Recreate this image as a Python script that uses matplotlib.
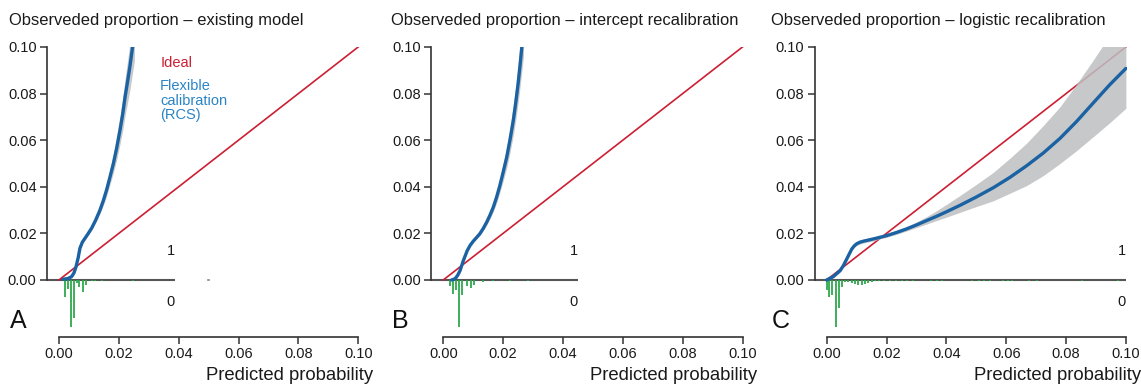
import matplotlib
matplotlib.use("Agg")
import matplotlib.pyplot as plt

plt.rcParams['font.family'] = ['Liberation Sans', 'DejaVu Sans']

# ---- data ----
titles = ["Observeded proportion \u2013 existing model",
          "Observeded proportion \u2013 intercept recalibration",
          "Observeded proportion \u2013 logistic recalibration"]
letters = ["A", "B", "C"]
xticks = [0.00, 0.02, 0.04, 0.06, 0.08, 0.10]
yticks = [0.00, 0.02, 0.04, 0.06, 0.08, 0.10]

# panel A: existing model
a_x = [0.0014, 0.0030, 0.0042, 0.0050, 0.0057, 0.0064, 0.0070, 0.0078, 0.0087, 0.0098,
       0.0109, 0.0123, 0.0137, 0.0148, 0.0159, 0.0170, 0.0182, 0.0193, 0.0204, 0.0213,
       0.0221, 0.0229, 0.0237, 0.0246, 0.0252]
a_y = [0.0003, 0.0006, 0.0014, 0.0030, 0.0057, 0.0095, 0.0136, 0.0162, 0.0179, 0.0200,
       0.0222, 0.0258, 0.0300, 0.0340, 0.0386, 0.0440, 0.0501, 0.0568, 0.0644, 0.0713,
       0.0787, 0.0850, 0.0916, 0.1001, 0.1060]
a_lo = [0.0002, 0.0004, 0.0011, 0.0026, 0.0052, 0.0089, 0.0130, 0.0157, 0.0174, 0.0194,
        0.0214, 0.0248, 0.0285, 0.0320, 0.0360, 0.0408, 0.0461, 0.0518, 0.0584, 0.0643,
        0.0707, 0.0760, 0.0816, 0.0891, 0.0940]
a_hi = [0.0004, 0.0008, 0.0017, 0.0034, 0.0062, 0.0101, 0.0142, 0.0167, 0.0184, 0.0206,
        0.0230, 0.0268, 0.0315, 0.0360, 0.0412, 0.0472, 0.0541, 0.0618, 0.0704, 0.0783,
        0.0867, 0.0940, 0.1016, 0.1111, 0.1180]
a_rug_x = [0.0019, 0.0029, 0.0039, 0.0049, 0.0059, 0.0068, 0.0079, 0.0090, 0.0109, 0.0120,
           0.0143, 0.0247]
a_rug_h = [0.0074, 0.0040, 0.0200, 0.0164, 0.0012, 0.0029, 0.0052, 0.0021, 0.0006, 0.0005,
           0.0004, 0.0004]
a_rug_end = 0.0388

# panel B: intercept recalibration
b_x = [0.0028, 0.0036, 0.0042, 0.0049, 0.0056, 0.0067, 0.0080, 0.0090, 0.0100, 0.0111,
       0.0122, 0.0134, 0.0145, 0.0156, 0.0167, 0.0178, 0.0189, 0.0200, 0.0212, 0.0223,
       0.0234, 0.0242, 0.0250, 0.0256, 0.0262, 0.0268]
b_y = [0.0000, 0.0003, 0.0009, 0.0022, 0.0040, 0.0083, 0.0126, 0.0149, 0.0166, 0.0182,
       0.0198, 0.0222, 0.0248, 0.0278, 0.0312, 0.0355, 0.0405, 0.0462, 0.0527, 0.0602,
       0.0685, 0.0760, 0.0842, 0.0915, 0.0993, 0.1070]
b_lo = [0.0000, 0.0002, 0.0007, 0.0019, 0.0036, 0.0078, 0.0121, 0.0145, 0.0162, 0.0177,
        0.0191, 0.0213, 0.0236, 0.0263, 0.0293, 0.0331, 0.0375, 0.0425, 0.0482, 0.0548,
        0.0621, 0.0687, 0.0759, 0.0823, 0.0891, 0.0958]
b_hi = [0.0001, 0.0005, 0.0012, 0.0026, 0.0045, 0.0089, 0.0131, 0.0153, 0.0170, 0.0187,
        0.0205, 0.0231, 0.0260, 0.0293, 0.0331, 0.0379, 0.0435, 0.0499, 0.0572, 0.0656,
        0.0749, 0.0833, 0.0925, 0.1007, 0.1095, 0.1182]
b_rug_x = [0.0021, 0.0031, 0.0041, 0.0051, 0.0061, 0.0080, 0.0091, 0.0103, 0.0134, 0.0167,
           0.0223, 0.0284]
b_rug_h = [0.0028, 0.0062, 0.0043, 0.0203, 0.0064, 0.0025, 0.0036, 0.0023, 0.0009, 0.0005,
           0.0004, 0.0004]
b_rug_end = 0.0450

# panel C: logistic recalibration
c_x = [0.0000, 0.0022, 0.0045, 0.0056, 0.0067, 0.0076, 0.0084, 0.0092, 0.0100, 0.0111,
       0.0122, 0.0139, 0.0156, 0.0178, 0.0200, 0.0234, 0.0267, 0.0300, 0.0334, 0.0367,
       0.0401, 0.0445, 0.0500, 0.0557, 0.0612, 0.0668, 0.0724, 0.0780, 0.0835, 0.0891,
       0.0946, 0.1000]
c_y = [0.0000, 0.0014, 0.0040, 0.0062, 0.0090, 0.0113, 0.0133, 0.0146, 0.0155, 0.0162,
       0.0166, 0.0171, 0.0176, 0.0183, 0.0190, 0.0204, 0.0219, 0.0236, 0.0255, 0.0273,
       0.0293, 0.0320, 0.0356, 0.0396, 0.0440, 0.0490, 0.0545, 0.0608, 0.0680, 0.0760,
       0.0838, 0.0908]
c_lo = [0.0000, 0.0011, 0.0036, 0.0058, 0.0086, 0.0109, 0.0128, 0.0140, 0.0148, 0.0154,
        0.0158, 0.0163, 0.0168, 0.0176, 0.0183, 0.0196, 0.0210, 0.0225, 0.0240, 0.0255,
        0.0270, 0.0290, 0.0315, 0.0340, 0.0372, 0.0405, 0.0448, 0.0500, 0.0555, 0.0615,
        0.0675, 0.0737]
c_hi = [0.0002, 0.0017, 0.0044, 0.0066, 0.0094, 0.0117, 0.0138, 0.0152, 0.0162, 0.0170,
        0.0175, 0.0180, 0.0184, 0.0190, 0.0197, 0.0213, 0.0229, 0.0249, 0.0272, 0.0297,
        0.0325, 0.0362, 0.0410, 0.0462, 0.0522, 0.0587, 0.0663, 0.0744, 0.0840, 0.0944,
        0.1050, 0.1150]
c_rug_x = [0.0002, 0.0009, 0.0019, 0.0030, 0.0040, 0.0050, 0.0061, 0.0072, 0.0084, 0.0095,
           0.0106, 0.0117, 0.0128, 0.0139, 0.0150, 0.0161, 0.0175, 0.0190, 0.0210, 0.0230,
           0.0250, 0.0270, 0.0290, 0.0350, 0.0368, 0.0385, 0.0485, 0.0510, 0.0525, 0.0545,
           0.0590, 0.0605, 0.0620, 0.0675, 0.0702, 0.0853, 0.0973]
c_rug_h = [0.0043, 0.0074, 0.0063, 0.0203, 0.0120, 0.0029, 0.0010, 0.0010, 0.0014, 0.0017,
           0.0020, 0.0020, 0.0017, 0.0014, 0.0010, 0.0006, 0.0005, 0.0005, 0.0005, 0.0005,
           0.0005, 0.0005, 0.0005, 0.0006, 0.0006, 0.0006, 0.0006, 0.0006, 0.0006, 0.0006,
           0.0006, 0.0006, 0.0006, 0.0006, 0.0006, 0.0006, 0.0006]
c_rug_end = 0.1000

ideal = [0.0, 0.1]

# ---- styling ----
RED = '#CC1F33'
BLUE = '#1B62A3'
BLUE_TXT = '#2A84C6'
GREY = '#BEBFC1'
GREEN = '#2EA84C'
AX = '#333333'
TXT = '#1a1a1a'

W, H = 1141, 384
fig = plt.figure(figsize=(W / 100, H / 100), dpi=100)

# axes boxes in pixel terms: (data x=0 pixel, px per unit)
x0_px = [59.0, 443.3, 826.7]
ppu = 2992.0
xmin, xmax = -0.004, 0.1005
ymin, ymax = -0.0245, 0.1
bot_px, top_px = 337, 47
title_px = [9, 391, 771]

curves = [(a_x, a_y, a_lo, a_hi, a_rug_x, a_rug_h, a_rug_end),
          (b_x, b_y, b_lo, b_hi, b_rug_x, b_rug_h, b_rug_end),
          (c_x, c_y, c_lo, c_hi, c_rug_x, c_rug_h, c_rug_end)]

for i, (cx, cy, clo, chi, rx, rh, rend) in enumerate(curves):
    left = (x0_px[i] + xmin * ppu) / W
    width = (xmax - xmin) * ppu / W
    ax = fig.add_axes([left, 1 - bot_px / H, width, (bot_px - top_px) / H])
    ax.set_xlim(xmin, xmax)
    ax.set_ylim(ymin, ymax)

    # rug baseline + histogram of predictions (outcome 0 below the line)
    ax.plot([xmin, rend], [0, 0], color='#555555', lw=1.5, zorder=1, solid_capstyle='butt')
    ax.vlines(rx, [-h for h in rh], 0, color=GREEN, lw=1.3, zorder=2)

    ax.plot(ideal, ideal, color=RED, lw=1.2, zorder=3)
    ax.fill_between(cx, clo, chi, color=GREY, alpha=0.85, lw=0, zorder=4)
    ax.plot(cx, cy, color=BLUE, lw=2.4, zorder=5, solid_capstyle='round')

    lab_x = rend - 0.0015 if i < 2 else 0.0986
    ax.text(lab_x, 0.0124, "1", ha='center', va='center', fontsize=10.5, color=TXT)
    ax.text(lab_x, -0.0094, "0", ha='center', va='center', fontsize=10.5, color=TXT)

    for s in ['top', 'right']:
        ax.spines[s].set_visible(False)
    ax.spines['left'].set_bounds(0, 0.1)
    ax.spines['bottom'].set_bounds(0, 0.1)
    for s in ['left', 'bottom']:
        ax.spines[s].set_color(AX)
        ax.spines[s].set_linewidth(1.2)
    ax.set_xticks(xticks)
    ax.set_xticklabels([f"{t:.2f}" for t in xticks])
    ax.set_yticks(yticks)
    ax.set_yticklabels([f"{t:.2f}" for t in yticks])
    ax.tick_params(axis='both', length=5, width=1.1, color=AX, labelsize=10.5,
                   labelcolor=TXT, pad=2.5)
    ax.patch.set_visible(False)

    fig.text(title_px[i] / W, 1 - 20 / H, titles[i], fontsize=11.9, color=TXT,
             va='center', ha='left')
    fig.text((title_px[i] + 1) / W, 1 - 321 / H, letters[i], fontsize=18, color='#111111',
             va='center', ha='left')
    fig.text((x0_px[i] + 0.105 * ppu) / W, 1 - 367 / H, "Predicted probability",
             fontsize=13.3, color=TXT, ha='right', va='top')

    if i == 0:
        ax.plot([0.0498, 0.0503], [0, 0], color='#888888', lw=1.2)
        ax.text(0.0338, 0.0931, "Ideal", color=RED, fontsize=10.5, va='center')
        ax.text(0.0338, 0.0862, "Flexible\ncalibration\n(RCS)", color=BLUE_TXT,
                fontsize=10.5, va='top', linespacing=1.05)

fig.savefig("out.png", dpi=100)
